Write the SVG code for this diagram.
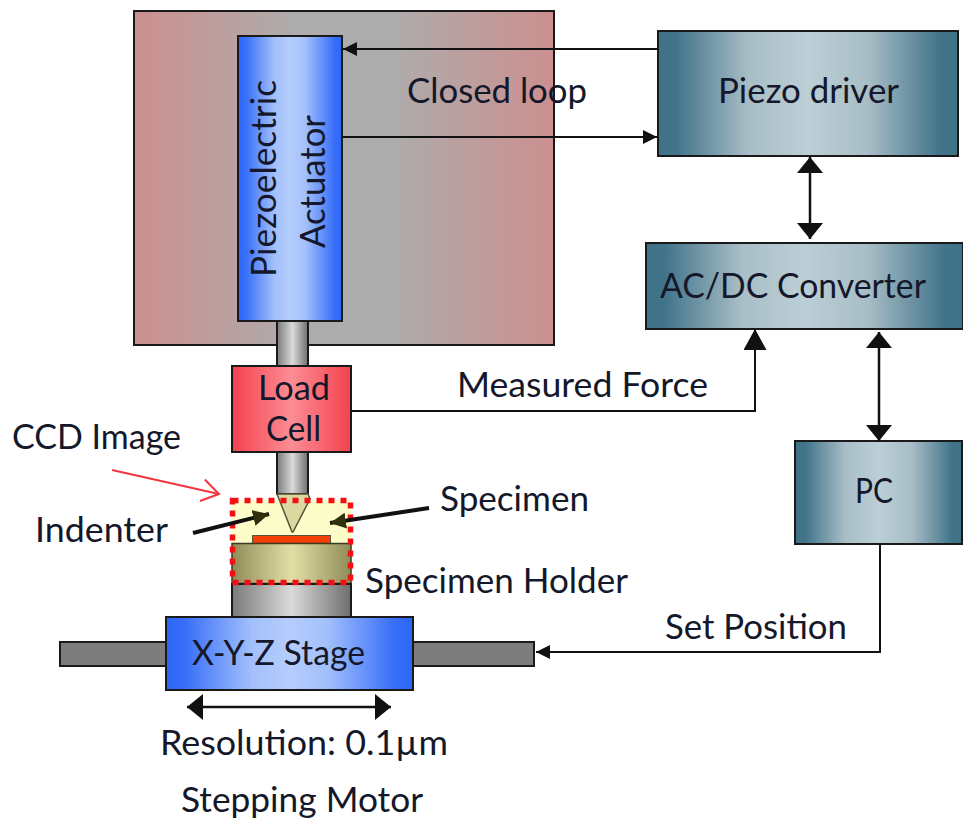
<svg xmlns="http://www.w3.org/2000/svg" width="963" height="821" viewBox="0 0 963 821">
<style>
text{font-family:Lato,"Open Sans","Liberation Sans",sans-serif;font-size:34px;fill:#14182a}
.b{stroke:#1a1a1a;stroke-width:2}
.c{fill:none;stroke:#111;stroke-width:2}
.d{fill:none;stroke:#111;stroke-width:2.5}
.t{fill:none;stroke:#111;stroke-width:4}
</style>
<defs>
<linearGradient id="bg"><stop offset="0" stop-color="#cc8f8f"/><stop offset=".4" stop-color="#adadad"/><stop offset=".6" stop-color="#adadad"/><stop offset="1" stop-color="#cc8f8f"/></linearGradient>
<linearGradient id="blue"><stop offset="0" stop-color="#2a66f8"/><stop offset=".08" stop-color="#3a70f8"/><stop offset=".35" stop-color="#a3c0fb"/><stop offset=".5" stop-color="#b5cdfd"/><stop offset=".65" stop-color="#a3c0fb"/><stop offset=".92" stop-color="#3a70f8"/><stop offset="1" stop-color="#2a66f8"/></linearGradient>
<linearGradient id="teal"><stop offset="0" stop-color="#3f7286"/><stop offset=".06" stop-color="#41748a"/><stop offset=".3" stop-color="#a8bdc6"/><stop offset=".5" stop-color="#bccfd6"/><stop offset=".7" stop-color="#a8bdc6"/><stop offset=".94" stop-color="#41748a"/><stop offset="1" stop-color="#3f7286"/></linearGradient>
<linearGradient id="grey"><stop offset="0" stop-color="#7a7a7a"/><stop offset=".5" stop-color="#dadada"/><stop offset="1" stop-color="#6e6e6e"/></linearGradient>
<linearGradient id="red"><stop offset="0" stop-color="#f4414f"/><stop offset=".5" stop-color="#fb8d94"/><stop offset="1" stop-color="#f4414f"/></linearGradient>
<linearGradient id="olive"><stop offset="0" stop-color="#8f8c58"/><stop offset=".5" stop-color="#e2dfa6"/><stop offset="1" stop-color="#8f8c58"/></linearGradient>
<marker id="a" markerUnits="userSpaceOnUse" markerWidth="18" markerHeight="28" refX="16" refY="13" orient="auto-start-reverse"><path d="M0 0L16 13L0 26Z" fill="#111"/></marker>
<marker id="f" markerUnits="userSpaceOnUse" markerWidth="23" markerHeight="24" refX="21" refY="11.5" orient="auto"><path d="M0 0L21 11.5L0 23Z" fill="#111"/></marker>
<marker id="s" markerUnits="userSpaceOnUse" markerWidth="16" markerHeight="16" refX="14" refY="7" orient="auto"><path d="M0 0L14 7L0 14Z" fill="#111"/></marker>
<marker id="k" markerUnits="userSpaceOnUse" markerWidth="18" markerHeight="18" refX="16" refY="8" orient="auto"><path d="M0 0L16 8L0 16Z" fill="#30300c"/></marker>
<marker id="r" markerUnits="userSpaceOnUse" markerWidth="24" markerHeight="28" refX="20" refY="14" orient="auto"><path d="M3 3L20 14L3 25" fill="none" stroke="#f4353f" stroke-width="2"/></marker>
</defs>
<g id="frame"><rect x="134" y="11" width="420" height="334" fill="url(#bg)" class="b"/></g>
<g id="rod-upper"><rect x="277" y="321" width="31" height="45" fill="url(#grey)" class="b"/></g>
<g id="actuator"><rect x="238" y="36" width="104" height="285" fill="url(#blue)" class="b"/>
<text transform="translate(276 277) rotate(-90)" textLength="197" lengthAdjust="spacingAndGlyphs">Piezoelectric</text>
<text transform="translate(325 248) rotate(-90)" textLength="133" lengthAdjust="spacingAndGlyphs">Actuator</text></g>
<g id="piezo-driver"><rect x="658" y="31" width="300" height="125" fill="url(#teal)" class="b"/><text x="718" y="103" textLength="181" lengthAdjust="spacingAndGlyphs">Piezo driver</text></g>
<g id="converter"><rect x="646" y="243" width="317" height="86" fill="url(#teal)" class="b"/><text x="660" y="298" textLength="266" lengthAdjust="spacingAndGlyphs">AC/DC Converter</text></g>
<g id="pc"><rect x="795" y="441" width="167" height="103" fill="url(#teal)" class="b"/><text x="855" y="503" textLength="38" lengthAdjust="spacingAndGlyphs">PC</text></g>
<g id="rod-lower"><rect x="277" y="452" width="31" height="42" fill="url(#grey)" class="b"/></g>
<g id="load-cell"><rect x="232" y="366" width="119" height="86" fill="url(#red)" class="b"/><text x="258" y="400" textLength="72" lengthAdjust="spacingAndGlyphs">Load</text><text x="266" y="441" textLength="55" lengthAdjust="spacingAndGlyphs">Cell</text></g>
<g id="ccd-area"><rect x="232" y="500" width="119" height="46" fill="#fdfdc9"/></g>
<g id="indenter"><path d="M277 494H308L310 499L293 532L292 532L279 499Z" fill="#dcd9a0" stroke="#55553a" stroke-width="1.5"/></g>
<g id="specimen"><rect x="252.500" y="535.500" width="78" height="8" fill="#f43f06" stroke="#55553a" stroke-width="1"/></g>
<g id="holder"><rect x="232" y="543.500" width="119" height="40" fill="url(#olive)" stroke="#3a3a20" stroke-width="1.5"/></g>
<g id="column"><rect x="232" y="584" width="119" height="33" fill="url(#grey)" class="b"/></g>
<g id="dotted-box"><rect x="232.500" y="500.500" width="118" height="82" fill="none" stroke="#f50f14" stroke-width="5.500" stroke-dasharray="6 6"/></g>
<g id="bars"><rect x="60" y="642" width="106" height="24" fill="#7d7d7d" class="b"/><rect x="413" y="642" width="121" height="24" fill="#7d7d7d" class="b"/></g>
<g id="stage"><rect x="166" y="617" width="247" height="73" fill="url(#blue)" class="b"/><text x="192" y="665" textLength="173" lengthAdjust="spacingAndGlyphs">X-Y-Z Stage</text></g>
<g id="connectors">
<path class="c" d="M658 49H343" marker-end="url(#s)"/>
<path class="c" d="M342 137H657" marker-end="url(#s)"/>
<path class="d" d="M810 157V239" marker-start="url(#a)" marker-end="url(#a)"/>
<path class="c" d="M351 411H755V329" marker-end="url(#f)"/>
<path class="d" d="M879 332V441" marker-start="url(#a)" marker-end="url(#a)"/>
<path class="c" d="M880 544V652H536" marker-end="url(#s)"/>
<path class="d" d="M187 707H391" marker-start="url(#a)" marker-end="url(#a)"/>
<path d="M112 470L219 494" fill="none" stroke="#f4353f" stroke-width="2" marker-end="url(#r)"/>
<path class="t" d="M193 533L269 514" marker-end="url(#k)"/>
<path class="t" d="M429 508L330 523" marker-end="url(#k)"/>
</g>
<g id="labels">
<text x="407" y="103" textLength="180" lengthAdjust="spacingAndGlyphs">Closed loop</text>
<text x="457" y="397" textLength="251" lengthAdjust="spacingAndGlyphs">Measured Force</text>
<text x="12" y="449" textLength="169" lengthAdjust="spacingAndGlyphs">CCD Image</text>
<text x="35" y="542" textLength="133" lengthAdjust="spacingAndGlyphs">Indenter</text>
<text x="440" y="511" textLength="149" lengthAdjust="spacingAndGlyphs">Specimen</text>
<text x="365" y="593" textLength="263" lengthAdjust="spacingAndGlyphs">Specimen Holder</text>
<text x="665" y="639" textLength="182" lengthAdjust="spacingAndGlyphs">Set Position</text>
<text x="160" y="755" textLength="288" lengthAdjust="spacingAndGlyphs">Resolution: 0.1µm</text>
<text x="181" y="812" textLength="242" lengthAdjust="spacingAndGlyphs">Stepping Motor</text>
</g>
</svg>
